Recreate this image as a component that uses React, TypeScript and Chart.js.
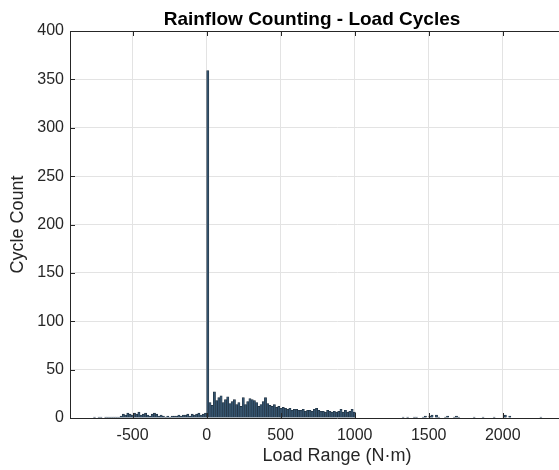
import React, { useEffect, useRef } from "react";
import { Chart, registerables } from "chart.js";

Chart.register(...registerables);

const TITLE = "Rainflow Counting - Load Cycles";
const X_TITLE = "Load Range (N·m)";
const Y_TITLE = "Cycle Count";

const BIN_WIDTH = 15;

// counts for contiguous bins starting at NEG_START
const NEG_START = -765;
const negCounts = [
  1, 0, 1, 1, 0, 1, 1, 1, 1, 1, 1, 1, 2, 4, 3, 5, 4, 3, 5, 4, 6, 3, 4, 5, 3, 2,
  4, 5, 4, 2, 3, 2, 1, 2, 1, 2, 2, 2, 3, 2, 3, 3, 4, 2, 4, 3, 4, 5, 3, 4, 5,
];

// counts for contiguous bins starting at POS_START
const POS_START = 0;
const posCounts = [
  359, 16, 13, 27, 18, 21, 23, 16, 19, 22, 15, 17, 19, 14, 16, 12, 21, 14, 17,
  20, 19, 18, 16, 12, 14, 17, 21, 15, 13, 12, 14, 11, 12, 10, 11, 10, 9, 10, 8,
  9, 9, 8, 8, 9, 7, 8, 8, 7, 9, 10, 8, 7, 7, 6, 8, 7, 6, 7, 6, 7, 9, 6, 8, 6, 7,
  9, 6,
];

// sparse tail bins (bin start, count)
const tailStarts = [
  1320, 1350, 1395, 1410, 1455, 1470, 1500, 1515, 1545, 1560, 1605, 1620, 1665,
  1680, 1695, 1800, 1860, 1935, 2010, 2040, 2250,
];
const tailCounts = [1, 1, 1, 1, 1, 2, 2, 3, 3, 1, 1, 2, 1, 2, 1, 1, 1, 1, 3, 2, 1];

const xTicks = [-500, 0, 500, 1000, 1500, 2000];
const yTicks = [0, 50, 100, 150, 200, 250, 300, 350, 400];
const X_MIN = -923;
const X_MAX = 2684;
const Y_MIN = 0;
const Y_MAX = 400;

const AXIS_COLOR = "#262626";
const GRID_COLOR = "#e3e3e3";
const FONT = "'Liberation Sans', Arial, Helvetica, sans-serif";

export default function App() {
  const ref = useRef<HTMLCanvasElement | null>(null);

  useEffect(() => {
    if (!ref.current) return;
    const points: { x: number; y: number }[] = [];
    negCounts.forEach((c, i) =>
      points.push({ x: NEG_START + BIN_WIDTH * (i + 0.5), y: c })
    );
    posCounts.forEach((c, i) =>
      points.push({ x: POS_START + BIN_WIDTH * (i + 0.5), y: c })
    );
    tailStarts.forEach((s, i) =>
      points.push({ x: s + BIN_WIDTH / 2, y: tailCounts[i] })
    );

    const framePlugin = {
      id: "frame",
      afterDraw(chart: any) {
        const { ctx, chartArea } = chart;
        const xs = chart.scales.x;
        const ys = chart.scales.y;
        ctx.save();
        ctx.strokeStyle = AXIS_COLOR;
        ctx.lineWidth = 1;
        ctx.beginPath();
        ctx.moveTo(chartArea.left, chartArea.top + 0.5);
        ctx.lineTo(chartArea.right, chartArea.top + 0.5);
        ctx.stroke();
        const tl = 5;
        ctx.beginPath();
        xTicks.forEach((v) => {
          const px = Math.round(xs.getPixelForValue(v)) + 0.5;
          ctx.moveTo(px, chartArea.bottom);
          ctx.lineTo(px, chartArea.bottom - tl);
          ctx.moveTo(px, chartArea.top);
          ctx.lineTo(px, chartArea.top + tl);
        });
        yTicks.forEach((v) => {
          const py = Math.round(ys.getPixelForValue(v)) + 0.5;
          ctx.moveTo(chartArea.left, py);
          ctx.lineTo(chartArea.left + tl, py);
        });
        ctx.stroke();
        ctx.fillStyle = "#000000";
        ctx.font = `bold 19px ${FONT}`;
        ctx.textAlign = "center";
        ctx.textBaseline = "alphabetic";
        ctx.fillText(TITLE, 312, 25);
        ctx.restore();
      },
    };

    const chart = new Chart(ref.current, {
      type: "bar",
      data: {
        datasets: [
          {
            data: points as any,
            backgroundColor: "#35546f",
            borderColor: "#1d2c3a",
            borderWidth: 0.6,
            barPercentage: 1,
            categoryPercentage: 1,
          },
        ],
      },
      options: {
        responsive: false,
        animation: false,
        events: [],
        layout: { padding: { top: 31, right: 20, bottom: 0, left: 0 } },
        plugins: {
          legend: { display: false },
          title: { display: false },
          tooltip: { enabled: false },
        },
        scales: {
          x: {
            type: "linear",
            min: X_MIN,
            max: X_MAX,
            offset: false,
            grid: {
              color: GRID_COLOR,
              drawTicks: false,
              offset: false,
            },
            border: { color: AXIS_COLOR, width: 1 },
            ticks: {
              color: AXIS_COLOR,
              font: { family: FONT, size: 16 },
              padding: 8,
              maxRotation: 0,
              callback: (v: any) => String(v),
            },
            afterBuildTicks: (scale: any) => {
              scale.ticks = xTicks.map((v) => ({ value: v }));
            },
            afterFit: (scale: any) => {
              scale.height = 52;
            },
            title: {
              display: true,
              text: X_TITLE,
              color: AXIS_COLOR,
              font: { family: FONT, size: 18 },
              padding: { top: 0, bottom: 3 },
            },
          },
          y: {
            type: "linear",
            min: Y_MIN,
            max: Y_MAX,
            grid: { color: GRID_COLOR, drawTicks: false },
            border: { color: AXIS_COLOR, width: 1 },
            ticks: {
              color: AXIS_COLOR,
              font: { family: FONT, size: 16 },
              padding: 6,
              callback: (v: any) => String(v),
            },
            afterBuildTicks: (scale: any) => {
              scale.ticks = yTicks.map((v) => ({ value: v }));
            },
            afterFit: (scale: any) => {
              scale.width = 70;
            },
            title: {
              display: true,
              text: Y_TITLE,
              color: AXIS_COLOR,
              font: { family: FONT, size: 18 },
              padding: { top: 7, bottom: 0 },
            },
          },
        },
      },
      plugins: [framePlugin],
    });
    return () => chart.destroy();
  }, []);

  return (
    <div
      style={{
        position: "fixed",
        left: 0,
        top: 0,
        width: 559,
        height: 470,
        overflow: "hidden",
        background: "#ffffff",
      }}
    >
      <canvas ref={ref} width={624} height={470} style={{ display: "block" }} />
    </div>
  );
}
